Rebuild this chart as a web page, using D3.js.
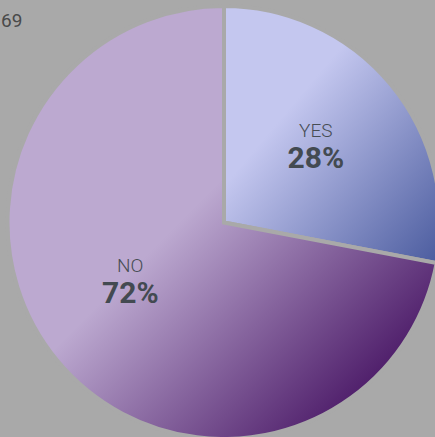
<!DOCTYPE html>
<html>
<head>
<meta charset="utf-8">
<script src="https://cdn.jsdelivr.net/npm/d3@7"></script>
<style>
  html, body { margin: 0; padding: 0; background: #a9a9a9; overflow: hidden; }
  svg { display: block; }
</style>
</head>
<body>
<svg id="chart" width="435" height="437"></svg>
<script>
// data
const categories = ["YES", "NO"];
const shares = [28, 72];
const topNumber = "69";

const lightColors = ["#c4c7ef", "#bca9d0"];
const darkColors = ["#4a5b9e", "#4a1866"];

const svg = d3.select("#chart"),
  cx = 224,
  cy = 222.5,
  radius = 216.5;

const defs = svg.append("defs");
categories.forEach((c, i) => {
  const grad = defs
    .append("linearGradient")
    .attr("id", "grad-" + c)
    .attr("x1", 0).attr("y1", 0)
    .attr("x2", 1).attr("y2", 1);
  const stops = i === 0
    ? [[0, lightColors[i]], [0.35, lightColors[i]], [1, darkColors[i]]]
    : [[0, lightColors[i]], [0.45, lightColors[i]], [0.88, darkColors[i]], [1, darkColors[i]]];
  stops.forEach(([o, col]) =>
    grad.append("stop").attr("offset", o).attr("stop-color", col));
});

const pie = d3.pie().sort(null).value((d) => d);
const arc = d3.arc().innerRadius(0).outerRadius(radius);
const labelArc = d3.arc().innerRadius(radius * 0.55).outerRadius(radius * 0.55);

const g = svg.append("g").attr("transform", `translate(${cx},${cy})`);

const arcs = pie(shares);

g.selectAll("path.slice")
  .data(arcs)
  .enter()
  .append("path")
  .attr("class", "slice")
  .attr("d", arc)
  .attr("fill", (d, i) => `url(#grad-${categories[i]})`)
  .attr("stroke", "#a9a9a9")
  .attr("stroke-width", 4)
  .attr("stroke-linejoin", "miter");

// the big slice's label sits a bit higher than its centroid
const nudge = (i) => (i === 1 ? [-2, -16] : [0, 0]);

const labels = g
  .selectAll("g.label")
  .data(arcs)
  .enter()
  .append("g")
  .attr("class", "label")
  .attr("transform", (d, i) => {
    const [x, y] = labelArc.centroid(d);
    const [nx, ny] = nudge(i);
    return `translate(${x + nx},${y + ny})`;
  });

labels
  .append("text")
  .attr("text-anchor", "middle")
  .attr("y", -10)
  .style("font-family", "Roboto, sans-serif")
  .style("font-size", "19px")
  .style("font-weight", 300)
  .style("fill", "#474d54")
  .text((d, i) => categories[i]);

labels
  .append("text")
  .attr("text-anchor", "middle")
  .attr("y", 21)
  .style("font-family", "Roboto, sans-serif")
  .style("font-size", "30px")
  .style("font-weight", 700)
  .style("fill", "#434a51")
  .text((d, i) => shares[i] + "%");

svg
  .append("text")
  .attr("x", 1)
  .attr("y", 27)
  .style("font-family", "Roboto, sans-serif")
  .style("font-size", "19px")
  .style("font-weight", 400)
  .style("fill", "#4a4a4a")
  .text(topNumber);
</script>
</body>
</html>
